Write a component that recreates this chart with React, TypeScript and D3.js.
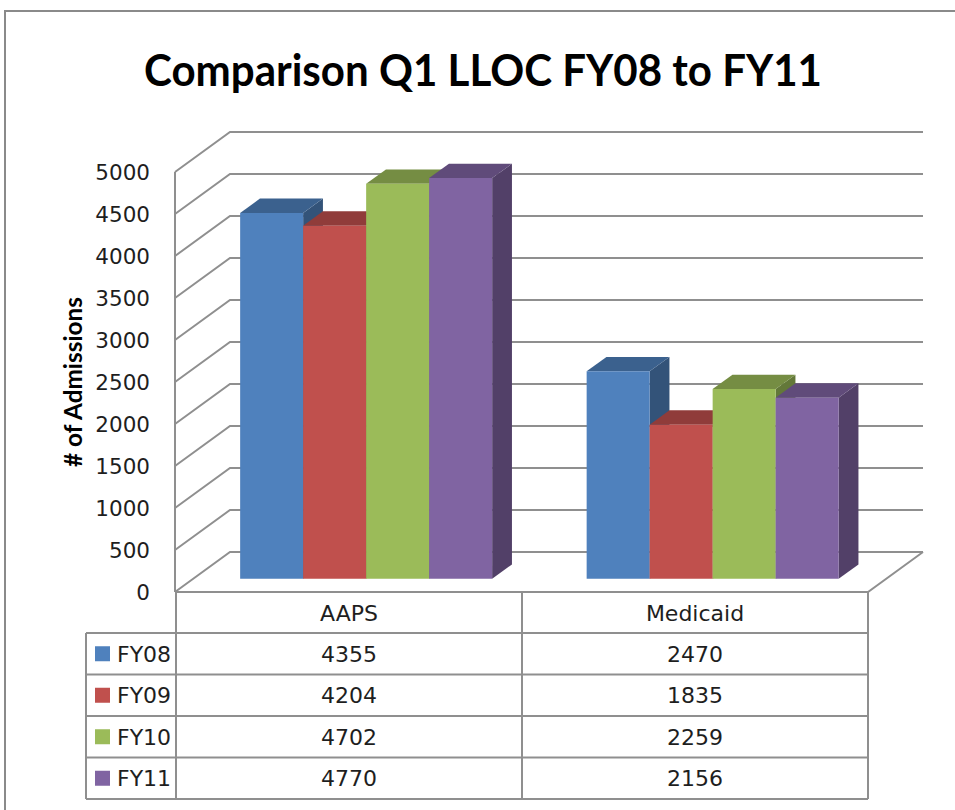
import React from 'react';
import * as d3 from 'd3';

const W = 955;
const H = 810;

const categories = ['AAPS', 'Medicaid'];
const series = ['FY08', 'FY09', 'FY10', 'FY11'];
const aapsValues = [4355, 4204, 4702, 4770];
const medicaidValues = [2470, 1835, 2259, 2156];
const colors = ['#4F81BD', '#C0504D', '#9BBB59', '#8064A2'];
const yTicks = [0, 500, 1000, 1500, 2000, 2500, 3000, 3500, 4000, 4500, 5000];

const values: { [k: string]: number[] } = { AAPS: aapsValues, Medicaid: medicaidValues };

// 3d floor geometry
const ox = 175;
const oy = 592;
const floorW = 693;
const depthDx = 55;
const depthDy = -40;
const zFront = 0.33;
const zBack = 0.69;

const yScale = d3.scaleLinear().domain([0, 5000]).range([0, 420]);
const xCat = d3.scaleBand().domain(categories).range([0, floorW]);
const xSeries = d3.scaleBand().domain(series).range([47, 299]);

const proj = (x: number, v: number, z: number): [number, number] => [
  ox + x + z * depthDx,
  oy - yScale(v) + z * depthDy,
];
const poly = (pts: [number, number][]) => 'M' + pts.map(p => p.join(',')).join('L') + 'Z';

// table
const colX = [86, 176, 522, 868];
const headTop = 592;
const rowScale = d3.scaleBand().domain(series).range([633, 799]);

const gridColor = '#8f8f8f';
const font = '"DejaVu Sans", sans-serif';
const textColor = '#1e1e1e';

export default function App() {
  const bars: JSX.Element[] = [];
  categories.forEach(cat => {
    series.forEach((s, i) => {
      const v = values[cat][i];
      const x0 = (xCat(cat) as number) + (xSeries(s) as number);
      const x1 = x0 + xSeries.bandwidth();
      const c = d3.color(colors[i]) as d3.RGBColor;
      bars.push(
        <g key={cat + s}>
          <path d={poly([proj(x1, 0, zFront), proj(x1, v, zFront), proj(x1, v, zBack), proj(x1, 0, zBack)])}
            fill={c.darker(1.25).formatHex()} />
          <path d={poly([proj(x0, v, zFront), proj(x1, v, zFront), proj(x1, v, zBack), proj(x0, v, zBack)])}
            fill={c.darker(0.8).formatHex()} />
          <path d={poly([proj(x0, 0, zFront), proj(x1, 0, zFront), proj(x1, v, zFront), proj(x0, v, zFront)])}
            fill={colors[i]} />
        </g>
      );
    });
  });

  return (
    <svg width={W} height={H} style={{ position: 'absolute', left: 0, top: 0, background: '#fff' }}>
      <rect x={0} y={0} width={W} height={H} fill="#fff" />
      {/* outer frame */}
      <path d={`M5,${H}L5,11L${W},11`} fill="none" stroke="#8a8a8a" strokeWidth={2} />

      <text x={483} y={86} textAnchor="middle" fontFamily="Lato, sans-serif" fontWeight="bold" fontSize={44}
        textLength={678} lengthAdjust="spacingAndGlyphs" fill="#000">Comparison Q1 LLOC FY08 to FY11</text>

      {/* walls and gridlines */}
      <g fill="none" stroke={gridColor} strokeWidth={2}>
        {yTicks.map(t => {
          const a = proj(0, t, 0), b = proj(0, t, 1), c = proj(floorW, t, 1);
          return <path key={t} d={`M${a}L${b}L${c}`} />;
        })}
        <path d={`M${proj(0, 0, 0)}L${proj(floorW, 0, 0)}L${proj(floorW, 0, 1)}`} />
        <line x1={ox} y1={proj(0, 5000, 0)[1]} x2={ox} y2={oy} />
      </g>

      {yTicks.map(t => (
        <text key={t} x={150} y={proj(0, t, 0)[1]} dy="0.36em" textAnchor="end" fontFamily={font} fontSize={21.5}
          fill={textColor}>{t}</text>
      ))}

      <text transform="translate(82,382) rotate(-90)" textAnchor="middle" fontFamily="Lato, sans-serif"
        fontWeight="bold" fontSize={24} textLength={170} lengthAdjust="spacingAndGlyphs"
        fill="#000">{'# of Admissions'}</text>

      {bars}

      {/* data table */}
      <g fill="none" stroke={gridColor} strokeWidth={2}>
        <line x1={colX[1]} y1={headTop} x2={colX[1]} y2={799} />
        <line x1={colX[2]} y1={headTop} x2={colX[2]} y2={799} />
        <line x1={colX[3]} y1={headTop} x2={colX[3]} y2={799} />
        <line x1={colX[0]} y1={633} x2={colX[0]} y2={799} />
        {series.map(s => (
          <line key={s} x1={colX[0]} y1={rowScale(s)} x2={colX[3]} y2={rowScale(s)} />
        ))}
        <line x1={colX[0]} y1={799} x2={colX[3]} y2={799} />
      </g>
      {categories.map((cat, ci) => (
        <text key={cat} x={(colX[ci + 1] + colX[ci + 2]) / 2} y={(headTop + 633) / 2 + 1} dy="0.36em"
          textAnchor="middle" fontFamily={font} fontSize={22} fill={textColor}>{cat}</text>
      ))}
      {series.map((s, i) => {
        const cy = (rowScale(s) as number) + rowScale.bandwidth() / 2;
        return (
          <g key={s}>
            <rect x={95} y={cy - 7.5} width={15} height={15} fill={colors[i]} />
            <text x={117} y={cy} dy="0.36em" fontFamily={font} fontSize={22} fill={textColor}>{s}</text>
            {categories.map((cat, ci) => (
              <text key={cat} x={(colX[ci + 1] + colX[ci + 2]) / 2} y={cy} dy="0.36em" textAnchor="middle"
                fontFamily={font} fontSize={22} fill={textColor}>{values[cat][i]}</text>
            ))}
          </g>
        );
      })}
    </svg>
  );
}
